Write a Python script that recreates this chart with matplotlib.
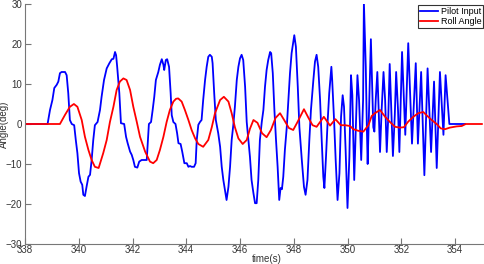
import numpy as np
import matplotlib
matplotlib.use('Agg')
import matplotlib.pyplot as plt

plt.rcParams['font.family'] = ['Liberation Sans', 'DejaVu Sans']

# pilot input (time, angle)
pilot_t = [338.0, 338.84, 338.93, 339.02, 339.09, 339.18, 339.24, 339.30, 339.36, 339.49,
           339.55, 339.61, 339.67, 339.74, 339.83, 339.89, 339.95, 340.01, 340.07, 340.13,
           340.17, 340.23, 340.29, 340.36, 340.42, 340.48, 340.54, 340.60, 340.70, 340.79,
           340.85, 340.94, 341.04, 341.14, 341.23, 341.29, 341.35, 341.39, 341.43, 341.51,
           341.57, 341.69, 341.76, 341.82, 341.91, 341.97, 342.03, 342.09, 342.18, 342.25,
           342.34, 342.53, 342.56, 342.61, 342.69, 342.75, 342.81, 342.87, 342.96, 343.02,
           343.09, 343.15, 343.18, 343.24, 343.29, 343.36, 343.42, 343.46, 343.52, 343.60,
           343.66, 343.71, 343.79, 343.85, 343.93, 344.02, 344.08, 344.14, 344.20, 344.29,
           344.35, 344.39, 344.45, 344.51, 344.57, 344.63, 344.70, 344.76, 344.82, 344.88,
           344.95, 344.98, 345.04, 345.10, 345.19, 345.26, 345.32, 345.38, 345.44, 345.50,
           345.57, 345.63, 345.69, 345.75, 345.81, 345.88, 345.94, 346.00, 346.06, 346.12,
           346.19, 346.25, 346.31, 346.37, 346.43, 346.50, 346.56, 346.62, 346.68, 346.74,
           346.81, 346.87, 346.93, 346.99, 347.05, 347.12, 347.16, 347.22, 347.28, 347.34,
           347.40, 347.46, 347.51, 347.56, 347.61, 347.67, 347.74, 347.80, 347.86, 347.92,
           348.02, 348.08, 348.15, 348.21, 348.30, 348.38, 348.44, 348.51, 348.58, 348.64,
           348.73, 348.79, 348.85, 348.91, 348.98, 349.04, 349.10, 349.14, 349.20, 349.26,
           349.32, 349.40, 349.43, 349.50, 349.56, 349.63, 349.70, 349.76, 349.82, 349.87,
           349.93, 350.00, 350.07, 350.13, 350.18, 350.25, 350.31, 350.37, 350.43, 350.51,
           350.58, 350.61, 350.68, 350.72, 350.75, 350.81, 350.87, 350.91, 350.96, 351.00,
           351.05, 351.11, 351.16, 351.21, 351.27, 351.34, 351.40, 351.46, 351.52, 351.57,
           351.63, 351.69, 351.76, 351.81, 351.88, 351.93, 352.03, 352.15, 352.26, 352.40,
           352.54, 352.62, 352.74, 352.86, 352.98, 353.11, 353.22, 353.32, 353.44, 353.57,
           353.65, 353.79, 354.37]
pilot_a = [0, 0, 3.5, 6, 9, 9.8, 10.6, 12.7, 13, 13,
           12.2, 7.7, 1, 0, -0.3, -4, -7.3, -12.3, -14.4, -15.2,
           -17.7, -18, -15.7, -13.2, -12.7, -9, -4, -0.3, 0.5, 3.5,
           6.8, 11, 13.9, 15.2, 16.2, 16.3, 18, 17.2, 14.3, 7.7,
           0.2, 0, -3.2, -4.8, -6.9, -7.7, -9, -10.7, -10.9, -9.4,
           -9, -9, -5.7, 0, 0.5, 3.5, 6.8, 11, 13, 14.8,
           16.2, 14.8, 13.5, 16, 16.2, 14.3, 7.7, 2.2, 0.5, 0,
           -2.3, -4.8, -5, -6.9, -9.8, -9.8, -10.7, -10.5, -10.7, -10.7,
           -9.8, -4, -0.2, 0.5, 1, 6, 11, 14.3, 16.8, 17.3,
           16.8, 15.2, 7.7, 1, -2.3, -5.7, -10.7, -14, -16.5, -19,
           -15.7, -10.7, -4, -0.3, 4.3, 11, 14.3, 16.4, 17.3, 16,
           9.3, 0.5, -4, -8.2, -14, -17.3, -19.8, -19.8, -14, -4,
           0.5, 3.5, 9.3, 13.5, 16, 18, 17.7, 12.7, 3.5, -4,
           -10.7, -19, -16, -16.3, -13.2, -6.5, -0.8, 6, 12.7, 17.7,
           22.2, 19.3, 9.3, -0.8, -9, -15.7, -17.7, -14, -4, 3.5,
           11, 15.6, 17.3, 14.3, 6, -4, -13.2, -16, -8.2, 0.5,
           7.7, 14.3, 11, 1, -9, -19, -12.3, 1.8, 7.2, 4.3,
           -6.5, -21, -8.2, 12.2, 7.2, -14, -0.8, 12.2, 6, -9,
           6, 30.4, 14.3, -0.8, -10, 6, 21.2, 11.8, -0.8, -1.9,
           6, 13, 3.5, -7, 3.5, 13, 6, -7, 2.3, 15,
           3.5, -8, 2.3, 13, 3.5, -7, 18, -2.7, 20.2, -4.9,
           15.2, -4.9, 13, -12.8, 13.9, -7, 10.6, -11, 13, -2.7,
           12.2, 0, 0]

# roll angle (time, angle)
roll_t = [338.0, 339.30, 339.49, 339.67, 339.82, 339.95, 340.11, 340.23, 340.36, 340.48,
          340.60, 340.74, 340.91, 341.04, 341.16, 341.29, 341.41, 341.53, 341.66, 341.78,
          341.91, 342.03, 342.16, 342.28, 342.47, 342.65, 342.77, 342.90, 343.02, 343.15,
          343.27, 343.39, 343.52, 343.62, 343.70, 343.83, 343.95, 344.08, 344.20, 344.33,
          344.45, 344.63, 344.82, 344.95, 345.07, 345.26, 345.40, 345.57, 345.69, 345.81,
          345.94, 346.10, 346.25, 346.37, 346.50, 346.65, 346.82, 346.99, 347.15, 347.32,
          347.49, 347.66, 347.82, 347.98, 348.14, 348.38, 348.55, 348.70, 348.85, 349.12,
          349.35, 349.55, 349.75, 349.91, 350.09, 350.22, 350.40, 350.59, 350.78, 350.90,
          351.02, 351.21, 351.40, 351.58, 351.77, 351.95, 352.10, 352.26, 352.45, 352.63,
          352.82, 352.94, 353.13, 353.32, 353.47, 353.63, 353.81, 354.06, 354.25, 354.40,
          355.0]
roll_a = [0, 0, 2.3, 4.3, 5, 4.3, 1, -3.2, -6.5, -9,
          -10.7, -11, -7.3, -4, 0.5, 4.3, 8.5, 10.6, 11.4, 11,
          8.5, 4.3, 0.5, -3.2, -6.9, -9.4, -9.8, -9, -6.5, -3.2,
          0.5, 3.5, 5.6, 6.3, 6.4, 5.6, 3.5, 1, -1.5, -3.6,
          -5, -5.7, -4, -0.8, 2.7, 6, 6.8, 5.6, 2.7, -0.8,
          -3.6, -5, -4, -1.2, 1, 0.3, -2.3, -3.3, -1.5, 1.5,
          2.7, 0.8, -1, -1.5, 0.5, 3.7, 1.5, -0.3, -0.7, 1.8,
          -0.4, 1.2, -0.3, -0.3, -0.5, -1.3, -1.7, -1.9, -0.3, 2,
          2.7, 3.5, 1.8, 0.5, -0.7, -0.9, -0.8, 0.6, 1.8, 2.7,
          3, 2.2, 1, 0, -1.1, -1.3, -0.9, -0.6, -0.5, 0,
          0]

xticks = [338, 340, 342, 344, 346, 348, 350, 352, 354]
yticks = [-30, -20, -10, 0, 10, 20, 30]

fig = plt.figure(figsize=(4.85, 2.64), dpi=100)
ax = fig.add_axes([25/485, 20/264, 483.75/485, 240/264])
l1, = ax.plot(pilot_t, pilot_a, color='#0000ff', lw=1.3, label='Pilot Input')
l2, = ax.plot(roll_t, roll_a, color='#ff0000', lw=1.3, label='Roll Angle')

ax.set_xlim(338, 356)
ax.set_ylim(-30, 30)
ax.set_xticks(xticks)
ax.set_yticks(yticks)
for s in ['top', 'right']:
    ax.spines[s].set_visible(False)
for s in ['left', 'bottom']:
    ax.spines[s].set_color('#777777')
ax.tick_params(direction='in', length=4, color='#777777', labelsize=7, labelcolor='#333333')
ax.tick_params(axis='x', pad=1)
ax.tick_params(axis='y', pad=2)
ax.set_xlabel('time(s)', fontsize=7, color='#333333')
ax.set_ylabel('Angle(deg)', fontsize=7, color='#333333')
ax.xaxis.set_label_coords(0.5, -0.04)
ax.yaxis.set_label_coords(-0.033, 0.5)

leg = fig.legend(handles=[l1, l2], loc='upper right', bbox_to_anchor=(483/485, 1 - 5/264),
                 fontsize=6.5, frameon=True, fancybox=False, borderpad=0.2,
                 handlelength=2.0, handletextpad=0.3, labelspacing=0.1, borderaxespad=0)
leg.get_frame().set_edgecolor('black')
leg.get_frame().set_linewidth(0.8)

fig.savefig('out.png', dpi=100)
